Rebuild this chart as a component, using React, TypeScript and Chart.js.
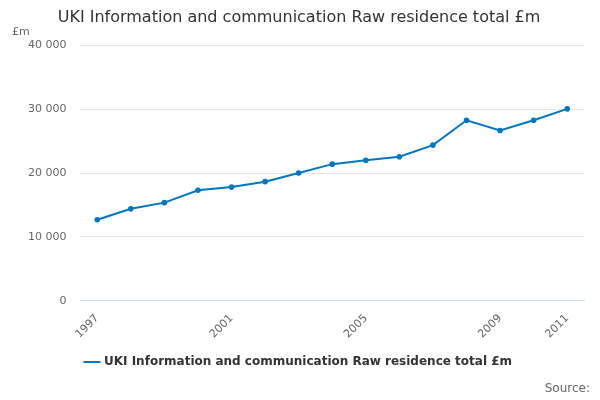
import React, { useEffect, useRef } from "react";
import { Chart, registerables } from "chart.js";
Chart.register(...registerables);

const years = ["1997","1998","1999","2000","2001","2002","2003","2004","2005","2006","2007","2008","2009","2010","2011"];
const values = [12700,14400,15370,17300,17800,18650,20000,21390,21990,22540,24370,28250,26660,28250,30040];
const shownLabels = ["1997","2001","2005","2009","2011"];
const seriesName = "UKI Information and communication Raw residence total £m";

export default function App() {
  const ref = useRef<HTMLCanvasElement>(null);
  useEffect(() => {
    const font = "'DejaVu Sans', sans-serif";
    const c = new Chart(ref.current!, {
      type: "line",
      data: { labels: years, datasets: [{ label: seriesName, data: values, borderColor: "#0077c0", backgroundColor: "#0077c0", borderWidth: 2, pointRadius: 1.8, pointHoverRadius: 1.8, tension: 0 }] },
      options: {
        animation: false, responsive: false,
        layout: { padding: { left: 14, right: 16, top: 0, bottom: 22 } },
        plugins: {
          title: { display: true, text: seriesName, color: "#333", font: { family: font, size: 16, weight: "normal" }, padding: { top: 8, bottom: 18 } },
          legend: { position: "bottom", labels: { usePointStyle: true, pointStyle: "line", color: "#333", font: { family: font, size: 12, weight: "bold" }, boxWidth: 16, padding: 12 } },
          tooltip: { enabled: false },
        },
        scales: {
          x: {
            offset: true,
            grid: { display: false, drawTicks: true, tickLength: 8, color: "#ccd6eb", offset: false },
            border: { color: "#ccd6eb" },
            ticks: { autoSkip: false, maxRotation: 45, minRotation: 45, color: "#666", font: { family: font, size: 11 },
              callback: (v: any, i: number) => (shownLabels.includes(years[i]) ? years[i] : "") },
          },
          y: {
            min: 0, max: 40000,
            grid: { color: "#e6e6e6", drawTicks: false },
            border: { display: false },
            ticks: { stepSize: 10000, padding: 14, color: "#666", font: { family: font, size: 11 },
              callback: (v: any) => Number(v).toLocaleString("en-US").replace(/,/g, " ") },
          },
        },
      },
    });
    return () => c.destroy();
  }, []);
  return (
    <div style={{ position: "relative", width: 600, height: 400, margin: -8 }}>
      <canvas ref={ref} width={600} height={400} />
      <div style={{ position: "absolute", left: 12, top: 25, fontFamily: "'DejaVu Sans', sans-serif", fontSize: 11, color: "#666" }}>£m</div>
      <div style={{ position: "absolute", right: 10, top: 381, fontFamily: "'DejaVu Sans', sans-serif", fontSize: 12, color: "#666" }}>Source:</div>
    </div>
  );
}
